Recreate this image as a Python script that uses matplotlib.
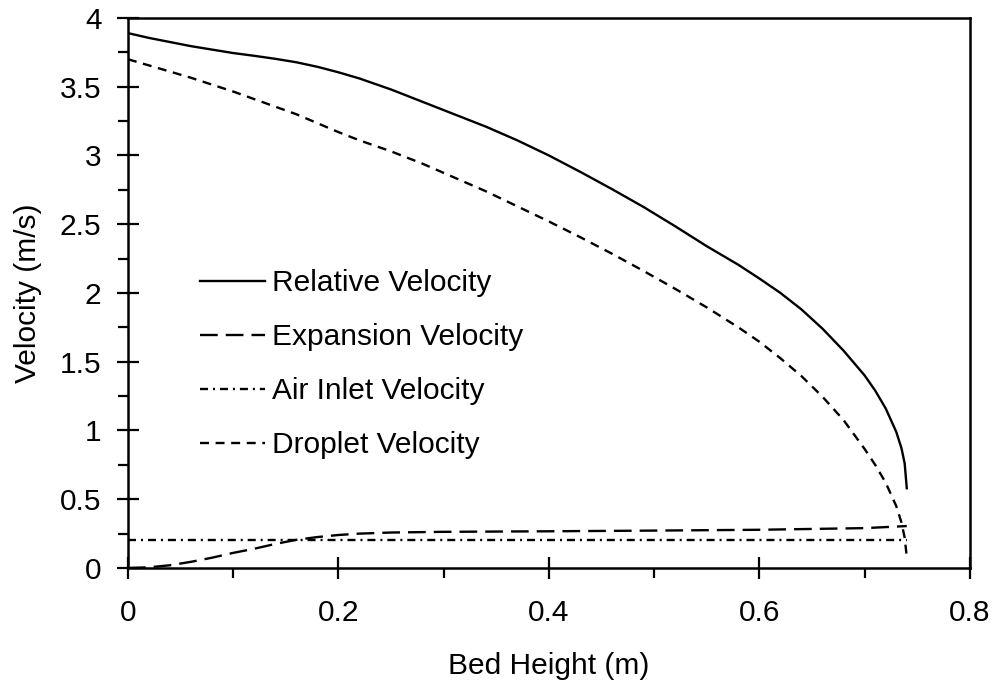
import matplotlib
matplotlib.use("Agg")
import matplotlib.pyplot as plt
from matplotlib.ticker import MultipleLocator

plt.rcParams['font.family'] = ['Liberation Sans', 'DejaVu Sans']

rel_x = [0.0, 0.02, 0.04, 0.06, 0.08, 0.10, 0.12, 0.14, 0.16, 0.18, 0.20, 0.22, 0.25, 0.28, 0.31, 0.34, 0.37,
         0.40, 0.43, 0.46, 0.49, 0.52, 0.55, 0.58, 0.60, 0.62, 0.64, 0.66, 0.68, 0.70, 0.71, 0.72, 0.73, 0.735,
         0.738, 0.74]
rel_y = [3.89, 3.855, 3.825, 3.795, 3.77, 3.745, 3.725, 3.703, 3.678, 3.645, 3.605, 3.56, 3.48, 3.39, 3.30, 3.21,
         3.11, 3.00, 2.88, 2.755, 2.625, 2.485, 2.34, 2.205, 2.105, 2.00, 1.88, 1.74, 1.58, 1.40, 1.29, 1.16, 0.99,
         0.87, 0.76, 0.58]

exp_x = [0.0, 0.02, 0.04, 0.06, 0.08, 0.10, 0.12, 0.14, 0.16, 0.18, 0.20, 0.22, 0.25, 0.30, 0.40, 0.50, 0.60,
         0.70, 0.74]
exp_y = [0.0, 0.005, 0.02, 0.045, 0.075, 0.11, 0.14, 0.175, 0.205, 0.225, 0.24, 0.25, 0.258, 0.263, 0.267,
         0.272, 0.278, 0.29, 0.305]

air_x = [0.0, 0.74]
air_y = [0.2, 0.2]

drop_x = [0.0, 0.02, 0.04, 0.06, 0.08, 0.10, 0.12, 0.14, 0.16, 0.18, 0.20, 0.22, 0.25, 0.28, 0.31, 0.34, 0.37,
          0.40, 0.43, 0.46, 0.49, 0.52, 0.55, 0.58, 0.60, 0.62, 0.64, 0.66, 0.68, 0.70, 0.71, 0.72, 0.73, 0.735,
          0.738, 0.74]
drop_y = [3.70, 3.655, 3.61, 3.565, 3.515, 3.465, 3.41, 3.355, 3.30, 3.235, 3.17, 3.11, 3.03, 2.94, 2.84, 2.74,
          2.63, 2.52, 2.405, 2.285, 2.16, 2.03, 1.895, 1.75, 1.645, 1.525, 1.395, 1.245, 1.075, 0.865, 0.75, 0.62,
          0.45, 0.33, 0.22, 0.08]

labels = ['Relative Velocity', 'Expansion Velocity', 'Air Inlet Velocity', 'Droplet Velocity']
x_ticks = [0, 0.2, 0.4, 0.6, 0.8]
x_tick_labels = ['0', '0.2', '0.4', '0.6', '0.8']
y_ticks = [0, 0.5, 1, 1.5, 2, 2.5, 3, 3.5, 4]
y_tick_labels = ['0', '0.5', '1', '1.5', '2', '2.5', '3', '3.5', '4']

fig = plt.figure(figsize=(9.95, 6.84), dpi=100)
ax = fig.add_axes([0.1286, 0.1696, 0.8462, 0.8041])

lw = 1.7
ax.plot(rel_x, rel_y, color='black', lw=lw, linestyle='-', label=labels[0])
ax.plot(exp_x, exp_y, color='black', lw=lw, linestyle=(0, (7.5, 3.4)), label=labels[1])
ax.plot(air_x, air_y, color='black', lw=lw, linestyle=(0, (3.4, 2.1, 0.85, 2.1)), label=labels[2])
ax.plot(drop_x, drop_y, color='black', lw=lw, linestyle=(0, (3.8, 2.8)), label=labels[3])

ax.set_xlim(0, 0.8)
ax.set_ylim(0, 4)
ax.set_xticks(x_ticks)
ax.set_xticklabels(x_tick_labels)
ax.set_yticks(y_ticks)
ax.set_yticklabels(y_tick_labels)
ax.xaxis.set_minor_locator(MultipleLocator(0.1))
ax.yaxis.set_minor_locator(MultipleLocator(0.25))

fs = 21.5
ax.tick_params(which='major', direction='inout', length=16, width=1.6, labelsize=fs)
ax.tick_params(axis='x', which='major', pad=14)
ax.tick_params(axis='y', which='major', pad=11)
ax.tick_params(which='minor', direction='out', length=7, width=1.6)
for s in ax.spines.values():
    s.set_linewidth(1.8)

ax.set_xlabel('Bed Height (m)', fontsize=fs, labelpad=18)
ax.set_ylabel('Velocity (m/s)', fontsize=fs, labelpad=13)

ax.legend(loc='upper left', bbox_to_anchor=(0.0855, 0.543), frameon=False, fontsize=fs,
          handlelength=2.17, handletextpad=0.23, labelspacing=0.87, borderpad=0, borderaxespad=0)

fig.savefig('out.png', dpi=100)
